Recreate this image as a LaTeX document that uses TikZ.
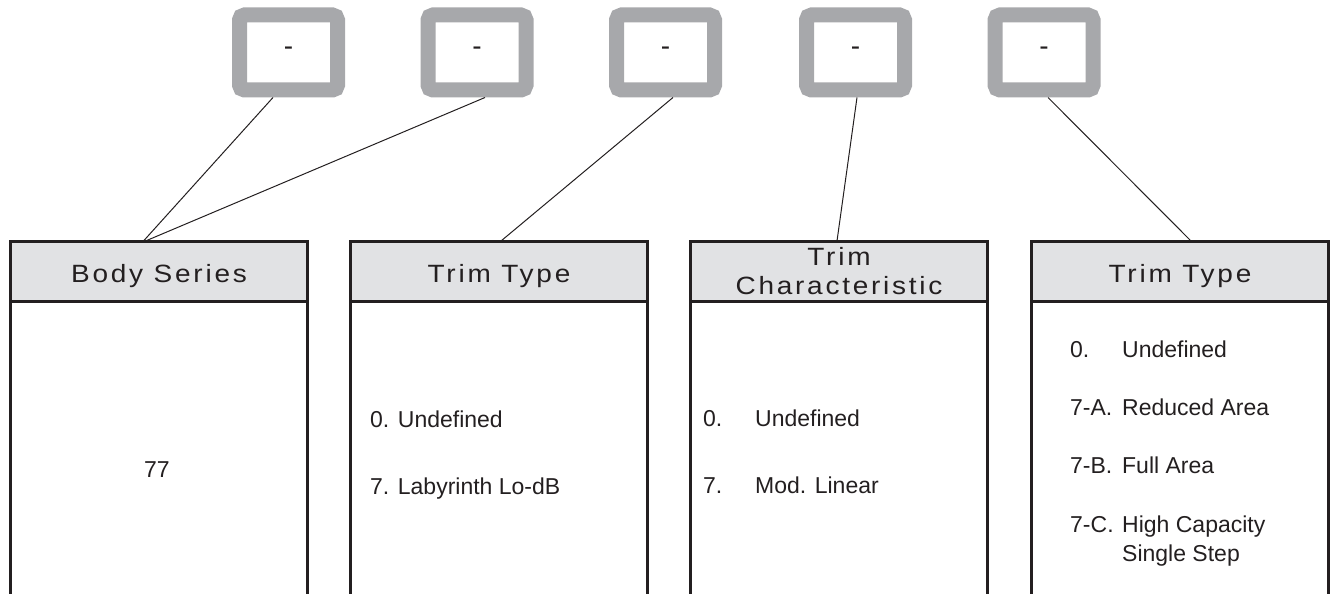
\documentclass[tikz,border=0pt]{standalone}
\usepackage{fontspec}
\setmainfont{Liberation Sans}
\newfontfamily\hdrfont[FakeStretch=1.12,LetterSpace=11]{Liberation Sans}
\usetikzlibrary{calc}
\definecolor{ink}{HTML}{231F20}
\definecolor{frame}{HTML}{A7A8AB}
\definecolor{hdr}{HTML}{E1E2E4}
\newcommand\numbox[1]{\makebox[52pt][l]{#1}}
\begin{document}
\begin{tikzpicture}[x=1pt,y=-1pt,
  topbox/.style={draw=frame, line width=15pt, rounded corners=5pt, minimum width=98pt, minimum height=75pt, inner sep=0pt, font=\fontsize{28}{30}\selectfont, text=ink, text height=0.54em, text depth=0pt},
  hdrbox/.style={draw=ink, fill=hdr, line width=3pt, minimum width=297pt, minimum height=60pt, outer sep=0pt, inner sep=0pt},
  side/.style={draw=ink, line width=3pt},
  conn/.style={draw=ink, line width=1pt},
  hdrtext/.style={anchor=base, text=ink, font=\hdrfont\fontsize{25}{29}\selectfont, inner sep=0pt},
  item/.style={anchor=base west, text=ink, font=\fontsize{23}{27}\selectfont, inner sep=0pt}]
\useasboundingbox (0,0) rectangle (1334,594);
\coordinate (bot) at (0,600);
% top boxes
\node[topbox] (t1) at (288.5,52.5) {-};
\node[topbox] (t2) at (477,52.5) {-};
\node[topbox] (t3) at (665.5,52.5) {-};
\node[topbox] (t4) at (855.5,52.5) {-};
\node[topbox] (t5) at (1044,52.5) {-};
% header boxes
\node[hdrbox] (hA) at (159,271) {};
\node[hdrbox] (hB) at (499,271) {};
\node[hdrbox] (hC) at (839,271) {};
\node[hdrbox] (hD) at (1180,271) {};
\foreach \h in {hA,hB,hC,hD}{
  \draw[side] (\h.south west) -- (\h.south west |- bot);
  \draw[side] (\h.south east) -- (\h.south east |- bot);
}
% connectors
\draw[conn] ([xshift=-15.5pt]t1.south) -- ([xshift=-15.5pt]hA.north);
\draw[conn] ([xshift=8pt]t2.south) -- ([xshift=-13.5pt]hA.north);
\draw[conn] ([xshift=7.5pt]t3.south) -- ([xshift=2pt]hB.north);
\draw[conn] ([xshift=1.5pt]t4.south) -- ([xshift=-2pt]hC.north);
\draw[conn] ([xshift=4pt]t5.south) -- ([xshift=11pt]hD.north);
% header texts
\node[hdrtext] (lA) at (159,282) {Body Series};
\node[hdrtext] (lB) at (499,282) {Trim Type};
\node[hdrtext] (lC1) at (839,265) {Trim};
\node[hdrtext] (lC2) at (839,294) {Characteristic};
\node[hdrtext] (lD) at (1180,282) {Trim Type};
% body texts
\node[item, anchor=base] (vA) at (157,477) {77};
\node[item] (b0) at (370,427) {0. Undefined};
\node[item] (b7) at (370,494) {7. Labyrinth Lo-dB};
\node[item] (c0) at (703,426) {\numbox{0.}Undefined};
\node[item] (c7) at (703,493) {\numbox{7.}Mod. Linear};
\node[item] (d0) at (1070,357) {\numbox{0.}Undefined};
\node[item] (d1) at (1070,415) {\numbox{7-A.}Reduced Area};
\node[item] (d2) at (1070,473) {\numbox{7-B.}Full Area};
\node[item] (d3) at (1070,532) {\numbox{7-C.}High Capacity};
\node[item] (d4) at (1070,561) {\numbox{}Single Step};
\end{tikzpicture}
\end{document}
